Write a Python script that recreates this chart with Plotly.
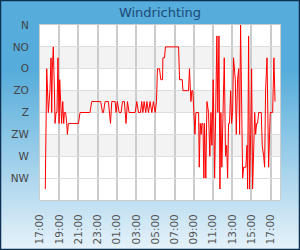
import plotly.graph_objects as go

# ---- data ----
times = [
    "2024-05-01 17:33", "2024-05-01 17:42", "2024-05-01 17:52", "2024-05-01 18:02",
    "2024-05-01 18:09", "2024-05-01 18:13", "2024-05-01 18:17", "2024-05-01 18:23",
    "2024-05-01 18:30", "2024-05-01 18:34", "2024-05-01 18:40", "2024-05-01 18:46",
    "2024-05-01 18:52", "2024-05-01 18:59", "2024-05-01 19:03", "2024-05-01 19:09",
    "2024-05-01 19:15", "2024-05-01 19:22", "2024-05-01 19:28", "2024-05-01 19:32",
    "2024-05-01 19:40", "2024-05-01 19:47", "2024-05-01 19:51", "2024-05-01 19:57",
    "2024-05-01 21:00", "2024-05-01 21:10", "2024-05-01 22:12", "2024-05-01 22:23",
    "2024-05-01 23:19", "2024-05-01 23:30", "2024-05-01 23:36", "2024-05-01 23:46",
    "2024-05-02 00:07", "2024-05-02 00:20", "2024-05-02 00:28", "2024-05-02 00:49",
    "2024-05-02 00:55", "2024-05-02 01:03", "2024-05-02 01:14", "2024-05-02 01:26",
    "2024-05-02 01:35", "2024-05-02 01:47", "2024-05-02 01:57", "2024-05-02 02:06",
    "2024-05-02 02:16", "2024-05-02 02:54", "2024-05-02 03:04", "2024-05-02 03:15",
    "2024-05-02 03:27", "2024-05-02 03:35", "2024-05-02 03:42", "2024-05-02 03:50",
    "2024-05-02 04:00", "2024-05-02 04:07", "2024-05-02 04:17", "2024-05-02 04:27",
    "2024-05-02 04:38", "2024-05-02 04:48", "2024-05-02 04:59", "2024-05-02 05:07",
    "2024-05-02 05:13", "2024-05-02 05:26", "2024-05-02 05:34", "2024-05-02 05:45",
    "2024-05-02 05:47", "2024-05-02 05:57", "2024-05-02 06:03", "2024-05-02 07:25",
    "2024-05-02 07:31", "2024-05-02 07:48", "2024-05-02 07:52", "2024-05-02 08:27",
    "2024-05-02 08:33", "2024-05-02 08:42", "2024-05-02 08:48", "2024-05-02 08:54",
    "2024-05-02 08:58", "2024-05-02 09:07", "2024-05-02 09:13", "2024-05-02 09:30",
    "2024-05-02 09:34", "2024-05-02 09:40", "2024-05-02 09:46", "2024-05-02 09:50",
    "2024-05-02 09:57", "2024-05-02 10:03", "2024-05-02 10:07", "2024-05-02 10:15",
    "2024-05-02 10:22", "2024-05-02 10:32", "2024-05-02 10:40", "2024-05-02 10:47",
    "2024-05-02 10:53", "2024-05-02 11:01", "2024-05-02 11:10", "2024-05-02 11:16",
    "2024-05-02 11:24", "2024-05-02 11:30", "2024-05-02 11:37", "2024-05-02 11:43",
    "2024-05-02 11:49", "2024-05-02 11:55", "2024-05-02 12:04", "2024-05-02 12:10",
    "2024-05-02 12:18", "2024-05-02 12:25", "2024-05-02 12:31", "2024-05-02 12:37",
    "2024-05-02 12:43", "2024-05-02 12:50", "2024-05-02 12:56", "2024-05-02 13:02",
    "2024-05-02 13:08", "2024-05-02 13:19", "2024-05-02 13:25", "2024-05-02 13:33",
    "2024-05-02 13:40", "2024-05-02 13:46", "2024-05-02 13:52", "2024-05-02 13:58",
    "2024-05-02 14:05", "2024-05-02 14:11", "2024-05-02 14:25", "2024-05-02 14:32",
    "2024-05-02 14:36", "2024-05-02 14:42", "2024-05-02 14:48", "2024-05-02 14:55",
    "2024-05-02 15:01", "2024-05-02 15:07", "2024-05-02 15:13", "2024-05-02 15:20",
    "2024-05-02 15:26", "2024-05-02 15:32", "2024-05-02 15:38", "2024-05-02 15:45",
    "2024-05-02 16:01", "2024-05-02 16:07", "2024-05-02 16:16", "2024-05-02 16:22",
    "2024-05-02 16:28", "2024-05-02 16:37", "2024-05-02 16:47", "2024-05-02 16:57",
    "2024-05-02 17:12", "2024-05-02 17:20", "2024-05-02 17:27",
]
direction_deg = [
    337.5, 90, 180, 135,
    67.5, 180, 90, 45,
    135, 202.5, 180, 180,
    67.5, 202.5, 112.5, 157.5,
    202.5, 157.5, 202.5, 180,
    180, 202.5, 225, 202.5,
    202.5, 180, 180, 157.5,
    157.5, 180, 180, 157.5,
    157.5, 202.5, 157.5, 157.5,
    180, 157.5, 180, 180,
    157.5, 157.5, 202.5, 157.5,
    180, 180, 157.5, 180,
    180, 157.5, 180, 157.5,
    180, 157.5, 180, 157.5,
    180, 157.5, 180, 157.5,
    90, 90, 112.5, 112.5,
    67.5, 67.5, 45, 45,
    112.5, 112.5, 135, 135,
    90, 157.5, 135, 135,
    157.5, 225, 180, 180,
    292.5, 202.5, 225, 202.5,
    202.5, 315, 202.5, 315,
    157.5, 180, 270, 180,
    247.5, 112.5, 315, 180,
    22.5, 180, 22.5, 337.5,
    180, 292.5, 180, 67.5,
    270, 247.5, 315, 202.5,
    202.5, 135, 202.5, 180,
    67.5, 112.5, 225, 112.5,
    90, 225, 0, 225,
    315, 292.5, 292.5, 247.5,
    337.5, 22.5, 337.5, 225,
    90, 337.5, 247.5, 180,
    225, 202.5, 202.5, 180,
    180, 247.5, 270, 292.5,
    135, 67.5, 292.5, 180,
    180, 67.5, 157.5,
]
compass_vals = [0, 45, 90, 135, 180, 225, 270, 315]
compass_labels = ["N", "NO", "O", "ZO", "Z", "ZW", "W", "NW"]
band_ranges = [(45, 90), (135, 180), (225, 270)]
x_start = "2024-05-01 17:00"
x_end = "2024-05-02 17:58"

W, H = 300, 250
ML, MR, MT, MB = 40, 20, 25, 50
PW, PH = W - ML - MR, H - MT - MB


def px2paper_x(px):
    return (px - ML) / PW


def py2paper_y(py):
    return (H - MB - py) / PH


def lerp(c1, c2, t):
    return tuple(round(a + (b - a) * t) for a, b in zip(c1, c2))


shapes = []
top_c = (86, 172, 218)
bot_c = (230, 242, 250)
step = 3
for yy in range(0, H, step):
    t = max(0.0, (yy + step / 2 - 70) / (H - 70))
    c = lerp(top_c, bot_c, t)
    shapes.append(dict(type="rect", xref="paper", yref="paper",
                       x0=px2paper_x(-2), x1=px2paper_x(W + 2),
                       y0=py2paper_y(yy + step + 0.5), y1=py2paper_y(yy),
                       fillcolor="rgb(%d,%d,%d)" % c, line=dict(width=0), layer="below"))
# plot area
shapes.append(dict(type="rect", xref="paper", yref="paper", x0=0, x1=1, y0=0, y1=1,
                   fillcolor="white", line=dict(width=0), layer="below"))
for a, b in band_ranges:
    shapes.append(dict(type="rect", xref="paper", yref="y", x0=0, x1=1, y0=a, y1=b,
                       fillcolor="#f3f3f3", line=dict(width=0), layer="below"))
# outer border
shapes.append(dict(type="rect", xref="paper", yref="paper",
                   x0=px2paper_x(0.5), x1=px2paper_x(W - 0.5),
                   y0=py2paper_y(H - 0.5), y1=py2paper_y(0.5),
                   fillcolor="rgba(0,0,0,0)", line=dict(color="#0d2f52", width=1.5),
                   layer="above"))

fig = go.Figure()
fig.add_trace(go.Scatter(x=times, y=direction_deg, mode="lines",
                         line=dict(color="#ff0000", width=1), hoverinfo="skip"))

fig.update_layout(
    width=W, height=H,
    margin=dict(l=ML, r=MR, t=MT, b=MB, pad=0, autoexpand=False),
    paper_bgcolor="#56acda",
    plot_bgcolor="rgba(0,0,0,0)",
    showlegend=False,
    font=dict(family="DejaVu Sans", size=10, color="#444444"),
    title=dict(text="Windrichting", x=0.5, xref="paper", xanchor="center",
               y=1 - 12 / H, yref="container", yanchor="middle",
               font=dict(family="DejaVu Sans", size=13, color="#1c4a78")),
    shapes=shapes,
)
fig.update_xaxes(
    type="date", range=[x_start, x_end], automargin=False,
    tick0=x_start, dtick=2 * 3600 * 1000, tickformat="%H:%M", tickangle=-90,
    showgrid=True, gridcolor="#cccccc", gridwidth=1.5,
    showline=True, linecolor="#cccccc", linewidth=1, mirror=True,
    ticks="", ticklabelstandoff=9, zeroline=False,
    tickfont=dict(family="DejaVu Sans", size=10.5, color="#555555"),
)
fig.update_yaxes(
    range=[360, 0], tickvals=compass_vals, ticktext=compass_labels, automargin=False,
    showgrid=True, gridcolor="#dddddd", gridwidth=1,
    showline=True, linecolor="#cccccc", linewidth=1, mirror=True,
    ticks="", ticklabelstandoff=8, zeroline=False,
    tickfont=dict(family="DejaVu Sans", size=10.5, color="#444444"),
)

fig.write_html("out.html")
